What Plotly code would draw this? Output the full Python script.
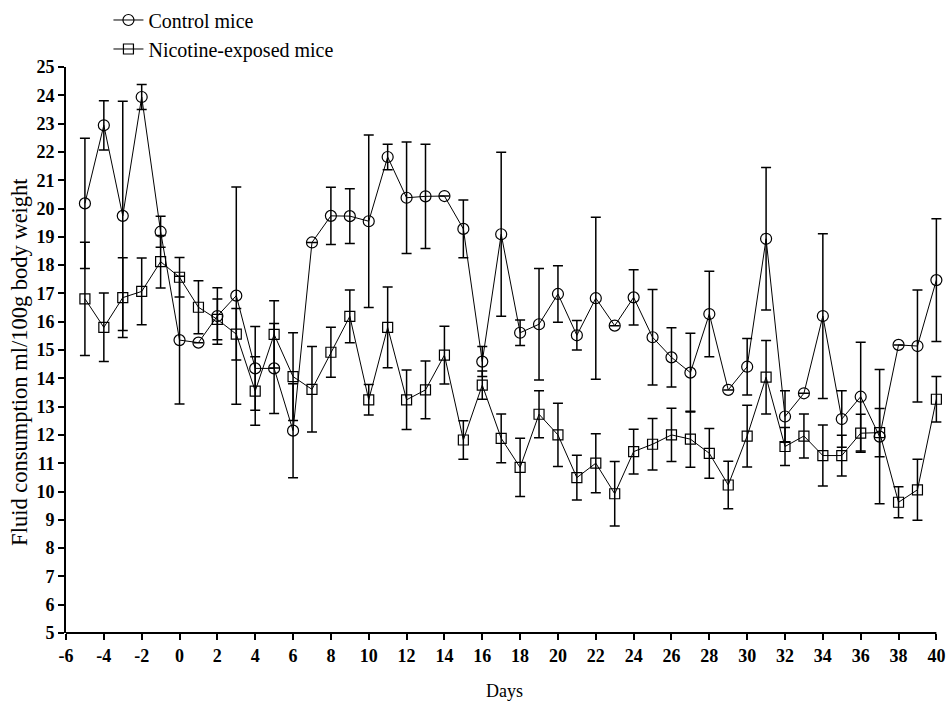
import plotly.graph_objects as go

days = list(range(-5, 41))

control_mean = [20.18, 22.94, 19.74, 23.94, 19.18, 15.35, 15.26, 16.2, 16.92, 14.35,
                14.35, 12.15, 18.8, 19.74, 19.73, 19.55, 21.82, 20.38, 20.43, 20.44,
                19.28, 14.59, 19.09, 15.61, 15.91, 16.98, 15.52, 16.83, 15.86, 16.86,
                15.45, 14.74, 14.2, 16.27, 13.59, 14.41, 18.93, 12.65, 13.47, 16.2,
                12.56, 13.35, 11.94, 15.18, 15.14, 17.47]
control_err = [2.3, 0.87, 4.05, 0.44, 0.55, 2.26, None, 1.0, 3.84, 1.48,
               1.59, 1.66, None, 1.01, 0.97, 3.05, 0.45, 1.97, 1.84, None,
               1.02, 0.53, 2.9, 0.45, 1.97, 1.0, 0.52, 2.86, None, 0.98,
               1.69, 1.05, 1.39, 1.51, None, 1.0, 2.52, 0.91, None, 2.91,
               1.0, 1.92, 2.37, None, 1.98, 2.17]

nicotine_mean = [16.81, 15.8, 16.85, 17.07, 18.12, 17.57, 16.51, 16.08, 15.56, 13.55,
                 15.55, 14.06, 13.61, 14.92, 16.19, 13.24, 15.8, 13.24, 13.59, 14.82,
                 11.82, 13.76, 11.88, 10.85, 12.73, 12.0, 10.49, 11.0, 9.92, 11.41,
                 11.67, 12.0, 11.85, 11.35, 10.23, 11.96, 14.04, 11.59, 11.96, 11.27,
                 11.27, 12.06, 12.08, 9.62, 10.06, 13.26]
nicotine_err = [2.0, 1.21, 1.41, 1.18, 0.93, 0.7, 0.94, 0.72, 0.91, 1.21,
                1.19, 1.55, 1.51, 0.88, 0.93, 0.54, 1.43, 1.05, 1.02, 1.02,
                0.68, 0.5, 0.86, 1.03, 0.83, 1.12, 0.79, 1.04, 1.14, 0.79,
                0.91, 0.94, 0.99, 0.88, 0.84, 1.09, 1.3, 0.67, 0.78, 1.08,
                0.72, 0.67, 0.85, 0.55, 1.08, 0.8]

x_ticks = list(range(-6, 41, 2))
x_ticktext = [str(v).replace("\u2212", "-") for v in x_ticks]
y_ticks = list(range(5, 26))

FONT = "Liberation Serif, Times New Roman, serif"
X_MIN, X_MAX = -6, 40
X_PAD = 0.35  # room so the last error-bar cap is not clipped

fig = go.Figure()
fig.add_trace(go.Scatter(
    x=days, y=control_mean, name="Control mice", mode="lines+markers",
    line=dict(color="black", width=1),
    marker=dict(symbol="circle-open", size=11, color="black", line=dict(width=1.2)),
    error_y=dict(type="data", array=control_err, visible=True, color="black",
                 thickness=1.5, width=5),
    cliponaxis=False,
))
fig.add_trace(go.Scatter(
    x=days, y=nicotine_mean, name="Nicotine-exposed mice", mode="lines+markers",
    line=dict(color="black", width=1),
    marker=dict(symbol="square-open", size=10, color="black", line=dict(width=1.2)),
    error_y=dict(type="data", array=nicotine_err, visible=True, color="black",
                 thickness=1.5, width=5),
    cliponaxis=False,
))

# bottom axis line ending exactly at the last tick
fig.add_shape(type="line", xref="x", yref="paper", x0=X_MIN, x1=X_MAX, y0=0, y1=0,
              line=dict(color="black", width=2), layer="above")

# y-axis title (placed as annotation to match reference position)
fig.add_annotation(text="Fluid consumption ml/100g body weight", textangle=-90,
                   xref="paper", yref="paper", x=0, y=0.479, xshift=-46,
                   xanchor="center", yanchor="middle", showarrow=False,
                   font=dict(family=FONT, size=22.5, color="black"))

fig.update_layout(
    width=950, height=701,
    margin=dict(l=66, r=7, t=67, b=68, autoexpand=False),
    paper_bgcolor="white", plot_bgcolor="white",
    font=dict(family=FONT, color="black", size=16),
    showlegend=True,
    legend=dict(x=0.0484, y=1.1175, xanchor="left", yanchor="top",
                font=dict(family=FONT, size=20, color="black"), bgcolor="rgba(0,0,0,0)",
                tracegroupgap=0, itemwidth=30),
    xaxis=dict(range=[X_MIN, X_MAX + X_PAD], tickmode="array", tickvals=x_ticks,
               ticktext=x_ticktext, automargin=False,
               showgrid=False, zeroline=False, showline=False,
               ticks="outside", ticklen=6, tickwidth=2, tickcolor="black",
               tickfont=dict(family=FONT, size=18, weight="bold"),
               title=dict(text="Days", font=dict(family=FONT, size=18), standoff=28)),
    yaxis=dict(range=[5, 25], tickmode="array", tickvals=y_ticks, automargin=False,
               showgrid=False, zeroline=False, showline=True, linecolor="black",
               linewidth=2, ticks="outside", ticklen=6, tickwidth=2, tickcolor="black",
               tickfont=dict(family=FONT, size=18, weight="bold")),
)

fig.write_html("out.html")
